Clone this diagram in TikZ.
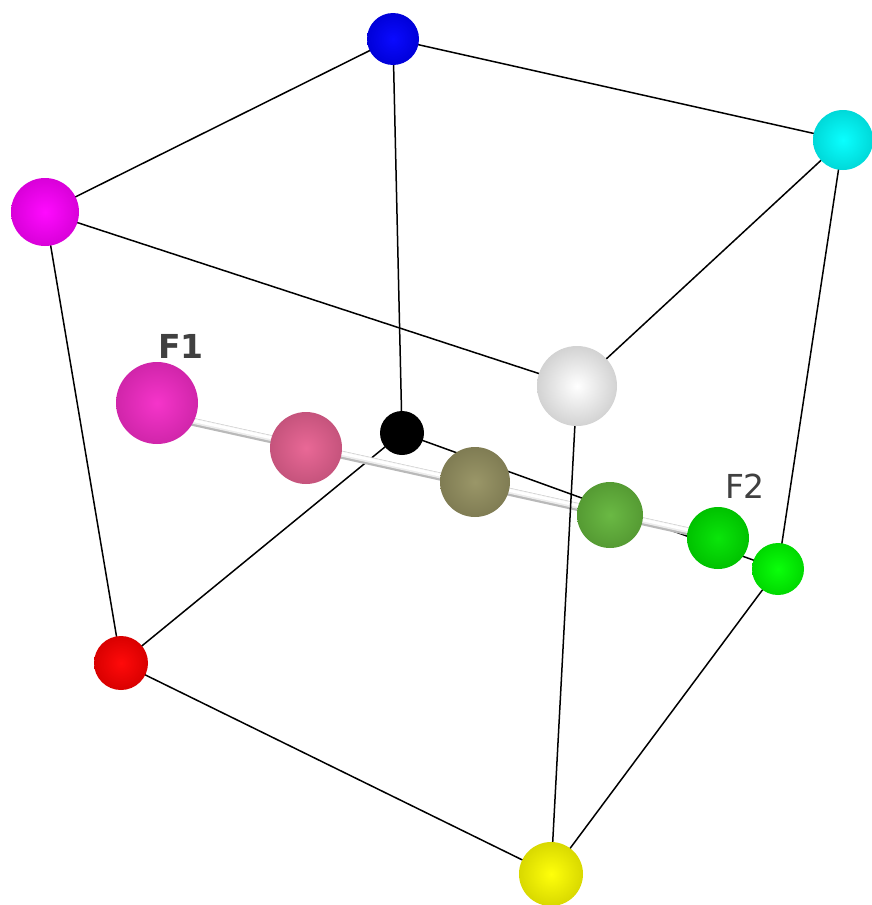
\documentclass[tikz,border=0pt]{standalone}
\usepackage{fontspec}
\setsansfont{DejaVu Sans}
\usepackage{tikz}
\usetikzlibrary{backgrounds}
\usepackage{xcolor}
\definecolor{fonepink}{RGB}{245,44,200}
\definecolor{midpink}{RGB}{232,98,146}
\definecolor{midolive}{RGB}{150,146,98}
\definecolor{midgreen}{RGB}{100,182,60}
\definecolor{ftwogreen}{RGB}{0,228,0}
\definecolor{labelgray}{RGB}{64,64,64}

\begin{document}
\begin{tikzpicture}[x=1pt,y=-1pt,line cap=round,
  edge/.style={black,line width=1.5pt},
  ball/.style={circle,inner sep=0pt,inner color=#1!96!white,outer color=#1!85!black},
  lbl/.style={font=\sffamily\fontsize{33}{34}\selectfont,text=labelgray}]
\useasboundingbox (0,0) rectangle (871,905);
% cube corners
\node[ball=blue,minimum size=52pt] (blue) at (393,39) {};
\node[ball=cyan,minimum size=60pt] (cyan) at (843,140) {};
\node[ball=magenta,minimum size=68pt] (magenta) at (45,212) {};
\node[circle,inner sep=0pt,inner color=white,outer color=gray!35,minimum size=80pt] (white) at (577,386) {};
\node[circle,inner sep=0pt,fill=black,minimum size=44pt] (black) at (402,433) {};
\node[ball=red,minimum size=54pt] (red) at (121,663) {};
\node[ball=green,minimum size=52pt] (green) at (778,569) {};
\node[ball=yellow,minimum size=64pt] (yellow) at (551,874) {};
% path F1 to F2
\node[ball=fonepink,minimum size=82pt] (fone) at (157,403) {};
\node[ball=midpink,minimum size=72pt] (mida) at (306,448) {};
\node[ball=midolive,minimum size=70pt] (midb) at (475,482) {};
\node[ball=midgreen,minimum size=66pt] (midc) at (610,515) {};
\node[ball=ftwogreen,minimum size=62pt] (ftwo) at (718,538) {};
\node[lbl,font=\sffamily\bfseries\fontsize{33}{34}\selectfont] (fonelbl) at (181,346) {F1};
\node[lbl] (ftwolbl) at (745,486) {F2};
\begin{scope}[on background layer]
\draw[edge] (magenta.center) -- (blue.center);
\draw[edge] (blue.center) -- (cyan.center);
\draw[edge] (magenta.center) -- (white.center);
\draw[edge] (cyan.center) -- (white.center);
\draw[edge] (magenta.center) -- (red.center);
\draw[edge] (blue.center) -- (black.center);
\draw[edge] (cyan.center) -- (green.center);
\draw[edge] (red.center) -- (black.center);
\draw[edge] (black.center) -- (green.center);
\draw[edge] (red.center) -- (yellow.center);
\draw[edge] (yellow.center) -- (green.center);
% tube
\draw[gray!55,line width=8pt,line cap=butt] ([yshift=-11pt]fone.center) -- (ftwo.center);
\draw[gray!15,line width=5.5pt,line cap=butt] ([yshift=-10pt]fone.center) -- ([yshift=1pt]ftwo.center);
\draw[white,line width=3pt,line cap=butt] ([yshift=-9.5pt]fone.center) -- ([yshift=1.5pt]ftwo.center);
\draw[edge] (white.center) -- (yellow.center);
\end{scope}
\end{tikzpicture}
\end{document}
